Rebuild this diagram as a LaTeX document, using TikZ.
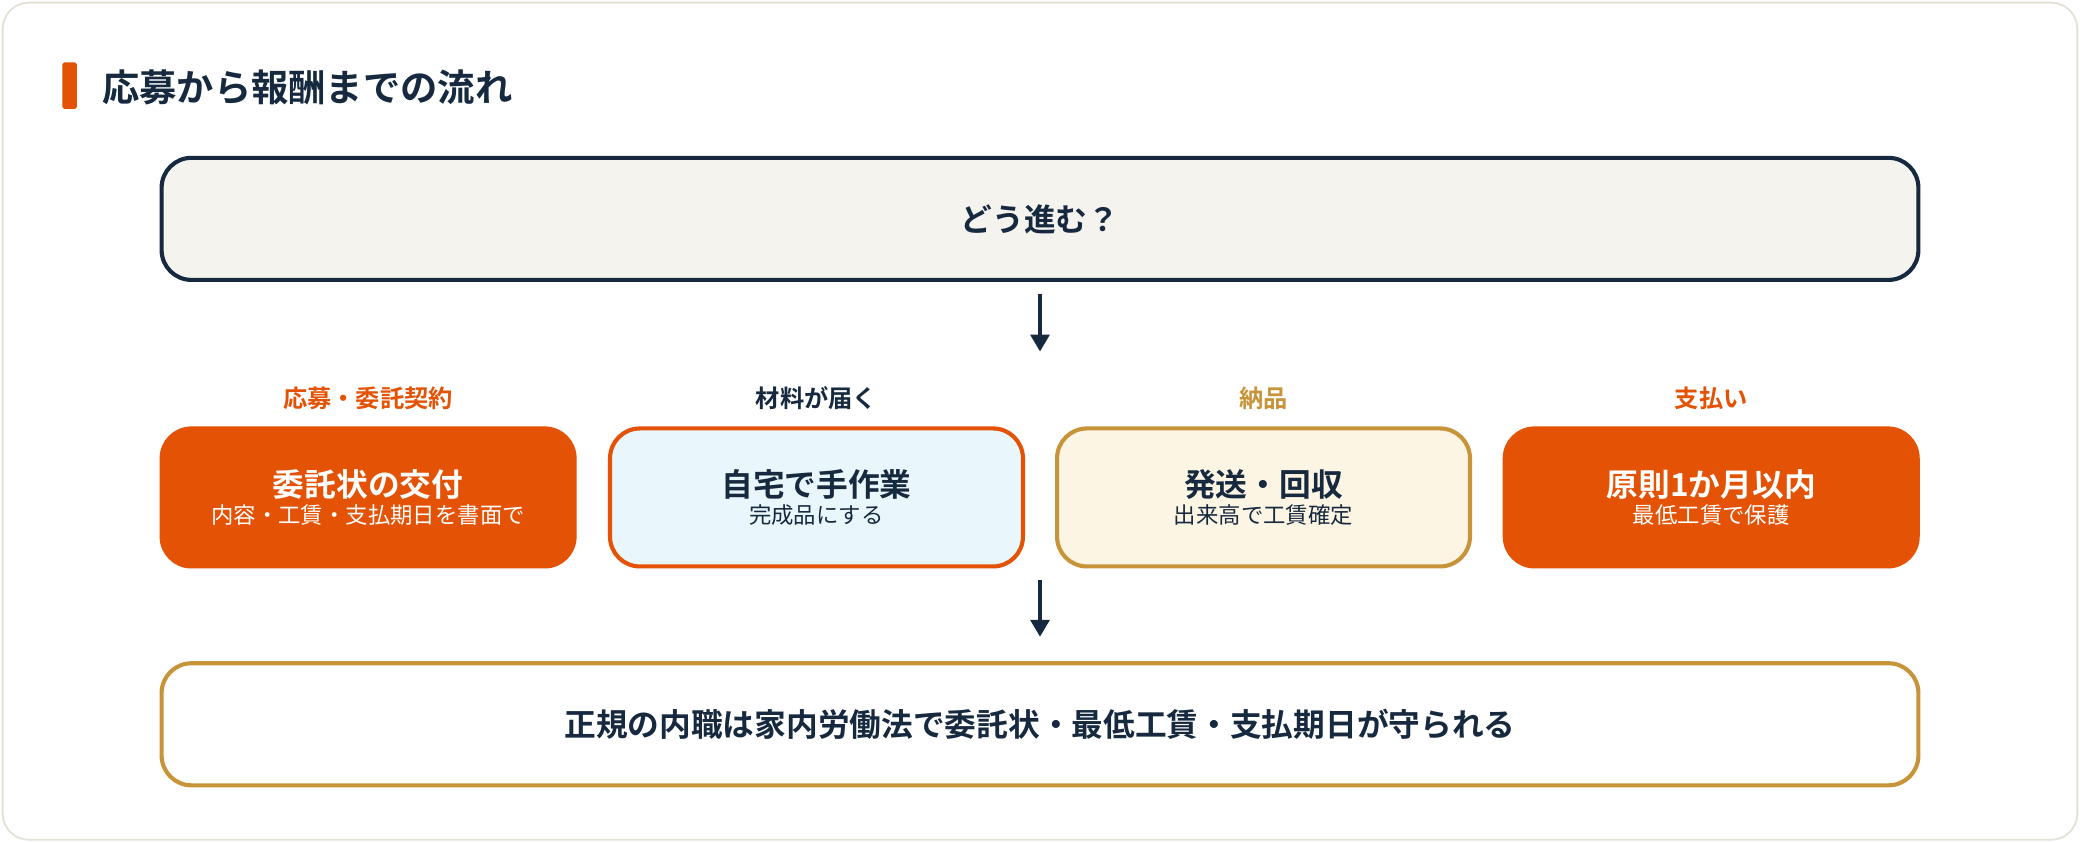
\documentclass[tikz,border=0pt]{standalone}
\usepackage{fontspec}
\setmainfont{Noto Sans CJK JP}[BoldFont={* Bold}]
\usetikzlibrary{shapes,arrows.meta,positioning,calc}
\definecolor{navy}{HTML}{16293F}
\definecolor{accent}{HTML}{E35205}
\definecolor{gold}{HTML}{C8943A}
\definecolor{cardline}{HTML}{E4E1D6}
\definecolor{topfill}{HTML}{F5F3EE}
\definecolor{bluefill}{HTML}{E9F6FB}
\definecolor{creamfill}{HTML}{FDF5E4}
\tikzset{
  stage/.style={draw, rounded corners=16pt, line width=2.2pt, minimum width=7.78cm, minimum height=2.6cm, align=center},
  stagelabel/.style={font=\fontsize{13}{15}\selectfont\bfseries},
  flow/.style={-{Triangle[length=9pt,width=10pt]}, line width=2pt, navy},
}
\begin{document}
\begin{tikzpicture}[x=0.025cm,y=-0.025cm]
\useasboundingbox (0,0) rectangle (1568,635);

% Card
\draw[cardline, fill=white, line width=1pt, rounded corners=14pt] (2,2) rectangle (1566,633);

% Heading
\fill[accent, rounded corners=1pt] (47,47) rectangle (58,82);
\node[anchor=west, text=navy, font=\fontsize{20}{24}\selectfont\bfseries] (title) at (72,66) {応募から報酬までの流れ};

% Question
\node[stage, draw=navy, fill=topfill, minimum width=33.1cm, minimum height=2.3cm] (ask) at (784,165)
  {\fontsize{17}{20}\selectfont\bfseries\color{navy} どう進む？};

% Stages
\node[stage, draw=accent, fill=accent, text=white] (s1) at (277.5,375)
  {{\fontsize{17}{20}\selectfont\bfseries 委託状の交付}\\[2pt]{\fontsize{12}{14}\selectfont 内容・工賃・支払期日を書面で}};
\node[stage, draw=accent, fill=bluefill, text=navy] (s2) at (615.5,375)
  {{\fontsize{17}{20}\selectfont\bfseries 自宅で手作業}\\[2pt]{\fontsize{12}{14}\selectfont 完成品にする}};
\node[stage, draw=gold, fill=creamfill, text=navy] (s3) at (952.5,375)
  {{\fontsize{17}{20}\selectfont\bfseries 発送・回収}\\[2pt]{\fontsize{12}{14}\selectfont 出来高で工賃確定}};
\node[stage, draw=accent, fill=accent, text=white] (s4) at (1290,375)
  {{\fontsize{17}{20}\selectfont\bfseries 原則1か月以内}\\[2pt]{\fontsize{12}{14}\selectfont 最低工賃で保護}};

% Stage labels
\node[stagelabel, text=accent] (l1) at (277.5,300) {応募・委託契約};
\node[stagelabel, text=navy] (l2) at (615.5,300) {材料が届く};
\node[stagelabel, text=gold] (l3) at (952.5,300) {納品};
\node[stagelabel, text=accent] (l4) at (1290,300) {支払い};

% Result
\node[stage, draw=gold, fill=white, minimum width=33.1cm, minimum height=2.3cm] (law) at (784,546)
  {\fontsize{17}{20}\selectfont\bfseries\color{navy} 正規の内職は家内労働法で委託状・最低工賃・支払期日が守られる};

% Arrows
\coordinate (a1) at (784,222);
\coordinate (a2) at (784,265);
\coordinate (b1) at (784,437);
\coordinate (b2) at (784,480);
\draw[flow] (a1) -- (a2);
\draw[flow] (b1) -- (b2);

\end{tikzpicture}
\end{document}
